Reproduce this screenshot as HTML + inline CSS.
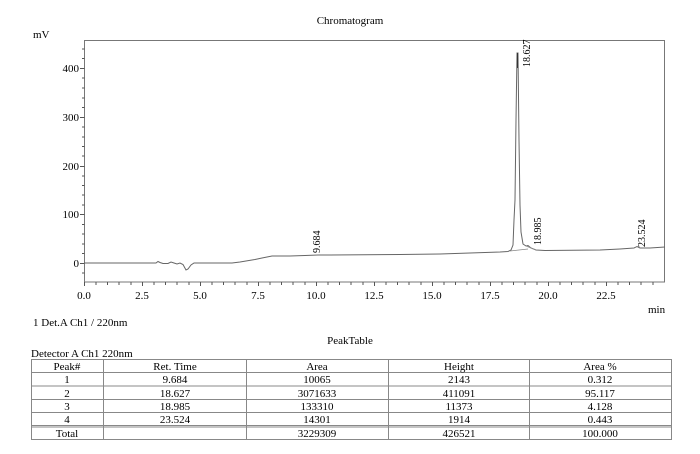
<!DOCTYPE html>
<html><head><meta charset="utf-8"><style>
body{margin:0;background:#fff;}
svg{display:block;font-family:"Liberation Serif",serif;}
</style></head><body>
<svg width="700" height="454" viewBox="0 0 700 454" xmlns="http://www.w3.org/2000/svg">
<rect width="700" height="454" fill="#fff"/>
<text x="350" y="24" font-size="11" text-anchor="middle">Chromatogram</text>
<text x="33" y="38" font-size="11">mV</text>
<text x="648" y="313" font-size="11">min</text>
<rect x="84.5" y="40.5" width="580" height="241.5" fill="none" stroke="#777" stroke-width="1"/>
<g stroke="#555" stroke-width="1">
<path d="M80 68.5h4.5M80 117.5h4.5M80 166.5h4.5M80 214.5h4.5M80 263.5h4.5"/>
<path d="M82 49h2.5M82 58.5h2.5M82 78h2.5M82 88h2.5M82 98h2.5M82 107.5h2.5M82 127h2.5M82 137h2.5M82 146.5h2.5M82 156h2.5M82 176h2.5M82 185.5h2.5M82 195h2.5M82 205h2.5M82 224.5h2.5M82 234h2.5M82 244h2.5M82 253.5h2.5M82 273h2.5"/>
</g>
<g font-size="11" text-anchor="end">
<text x="79" y="72">400</text><text x="79" y="121">300</text><text x="79" y="170">200</text><text x="79" y="218">100</text><text x="79" y="267">0</text>
</g>
<g font-size="11" text-anchor="middle">
<text x="84" y="299">0.0</text><text x="142" y="299">2.5</text><text x="200" y="299">5.0</text><text x="258" y="299">7.5</text><text x="316" y="299">10.0</text><text x="374" y="299">12.5</text><text x="432" y="299">15.0</text><text x="490" y="299">17.5</text><text x="548" y="299">20.0</text><text x="606" y="299">22.5</text>
</g>
<path fill="none" stroke="#666" stroke-width="1" d="M84 263 L156 263 L158 261.5 L160 262.5 L163 263.5 L168 263.5 L171 262 L174 263 L177 264 L180 263 L183 264.5 L186 270 L188 269 L191 265 L194 263 L232 263 L240 262 L255 259.5 L262 258 L272 256 L290 256 L305 255.5 L318 255 L330 255 L400 254.5 L440 254 L470 253 L500 252 L508 251.5 L511 250 L513 245 L514 220 L515 200 L516 120 L517 53 L518 53 L519 140 L520 205 L521 232 L523 244 L526 246 L528 245.5 L531 248 L536 250 L545 250.5 L600 250 L620 249 L634 248 L637 246.5 L640 248 L650 248 L665 247"/>
<path fill="none" stroke="#888" stroke-width="0.8" d="M510 251 L528 249 M526 246 L536 250"/>
<path stroke="#333" stroke-width="1" d="M517.5 53v15"/>
<g font-size="10">
<text transform="translate(320,253) rotate(-90)">9.684</text>
<text transform="translate(530,67) rotate(-90)">18.627</text>
<text transform="translate(541,245) rotate(-90)">18.985</text>
<text transform="translate(645,247) rotate(-90)">23.524</text>
</g>
<text x="33" y="326" font-size="11">1 Det.A Ch1 / 220nm</text>
<text x="350" y="344" font-size="11" text-anchor="middle">PeakTable</text>
<text x="31" y="357" font-size="11">Detector A Ch1 220nm</text>
<g stroke="#888" stroke-width="1" fill="none">
<rect x="31.5" y="359.5" width="640" height="80"/>
<path d="M31 372.5h641M31 386h641M31 399.5h641M31 412.5h641M31 425.5h641M31 427h641"/>
<path d="M103.5 359v81M246.5 359v81M388.5 359v81M529.5 359v81"/>
</g>
<g font-size="11" text-anchor="middle">
<text x="67" y="370">Peak#</text><text x="175" y="370">Ret. Time</text><text x="317" y="370">Area</text><text x="459" y="370">Height</text><text x="600" y="370">Area %</text>
<text x="67" y="383">1</text><text x="175" y="383">9.684</text><text x="317" y="383">10065</text><text x="459" y="383">2143</text><text x="600" y="383">0.312</text>
<text x="67" y="397">2</text><text x="175" y="397">18.627</text><text x="317" y="397">3071633</text><text x="459" y="397">411091</text><text x="600" y="397">95.117</text>
<text x="67" y="410">3</text><text x="175" y="410">18.985</text><text x="317" y="410">133310</text><text x="459" y="410">11373</text><text x="600" y="410">4.128</text>
<text x="67" y="423">4</text><text x="175" y="423">23.524</text><text x="317" y="423">14301</text><text x="459" y="423">1914</text><text x="600" y="423">0.443</text>
<text x="67" y="437">Total</text><text x="317" y="437">3229309</text><text x="459" y="437">426521</text><text x="600" y="437">100.000</text>
</g>
<path stroke="#555" stroke-width="1" d="M84.5 282v4M96 282v3M107.5 282v3M119 282v3M131 282v3M142.5 282v4M154 282v3M165.5 282v3M177 282v3M189 282v3M200.5 282v4M212 282v3M223.5 282v3M235 282v3M247 282v3M258.5 282v4M270 282v3M281.5 282v3M293 282v3M305 282v3M316.5 282v4M328 282v3M339.5 282v3M351 282v3M363 282v3M374.5 282v4M386 282v3M397.5 282v3M409 282v3M421 282v3M432.5 282v4M444 282v3M455.5 282v3M467 282v3M479 282v3M490.5 282v4M502 282v3M513.5 282v3M525 282v3M537 282v3M548.5 282v4M560 282v3M571.5 282v3M583 282v3M595 282v3M606.5 282v4M618 282v3M629.5 282v3M641 282v3M653 282v3"/>
</svg>
</body></html>
